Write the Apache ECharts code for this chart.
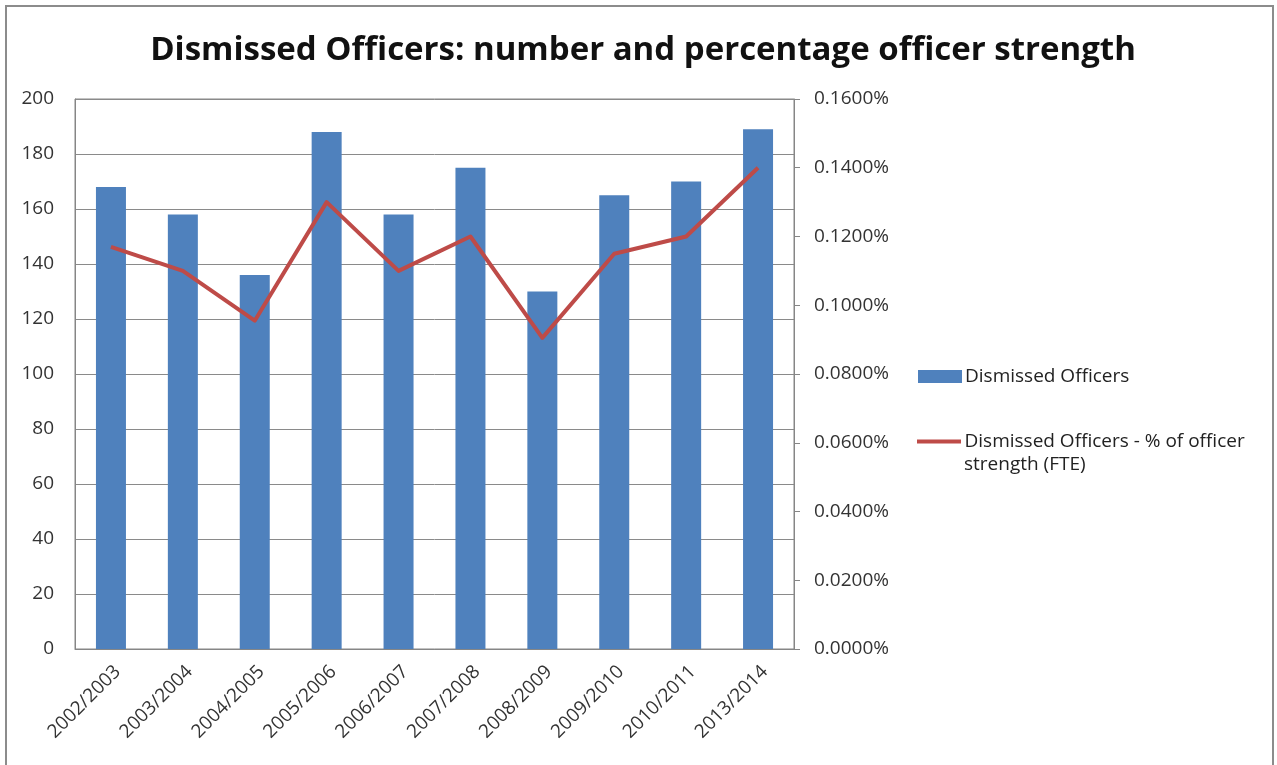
<!DOCTYPE html>
<html>
<head>
<meta charset="utf-8">
<script src="https://cdn.jsdelivr.net/npm/echarts@6/dist/echarts.min.js"></script>
<style>
  html, body { margin: 0; padding: 0; background: #fff; }
  #chart { width: 1277px; height: 765px; }
</style>
</head>
<body>
<div id="chart"></div>
<script>
// Fiscal years
const years = ['2002/2003', '2003/2004', '2004/2005', '2005/2006', '2006/2007',
               '2007/2008', '2008/2009', '2009/2010', '2010/2011', '2013/2014'];
// Number of dismissed officers
const dismissed = [168, 158, 136, 188, 158, 175, 130, 165, 170, 189];
// Dismissed officers as a percentage of officer strength (FTE), in %
const dismissedPct = [0.117, 0.110, 0.0955, 0.130, 0.110, 0.120, 0.0905, 0.115, 0.120, 0.140];

const barName = 'Dismissed Officers';
const lineName = 'Dismissed Officers - % of officer strength (FTE)';

const FONT = '"Open Sans", "Noto Sans", sans-serif';
const LABEL = '#333333';
const LEGEND_TEXT = '#222222';

const chart = echarts.init(document.getElementById('chart'), null, { renderer: 'canvas' });

chart.setOption({
  backgroundColor: '#ffffff',
  animation: false,
  textStyle: { fontFamily: FONT },
  title: {
    text: 'Dismissed Officers: number and percentage officer strength',
    left: 638,
    top: 29,
    textAlign: 'center',
    textStyle: { fontFamily: FONT, fontSize: 33, fontWeight: 'bold', color: '#111' }
  },
  legend: [
    {
      data: [barName],
      left: 913,
      top: 362,
      itemWidth: 44,
      itemHeight: 13,
      itemGap: 4,
      icon: 'rect',
      textStyle: { fontFamily: FONT, fontSize: 19, color: LEGEND_TEXT, padding: [0, 0, 0, -2] },
      selectedMode: false
    },
    {
      data: [{ name: lineName, icon: 'path://M0,0 L44,0 L44,4 L0,4 Z' }],
      formatter: () => 'Dismissed Officers - % of officer',
      left: 912,
      top: 427,
      itemWidth: 45,
      itemHeight: 4,
      textStyle: { fontFamily: FONT, fontSize: 19, color: LEGEND_TEXT, padding: [0, 0, 0, -2] },
      selectedMode: false
    }
  ],
  graphic: [
    {
      type: 'rect',
      shape: { x: 6, y: 6, width: 1267, height: 770 },
      style: { fill: 'none', stroke: '#8c8c8c', lineWidth: 2 },
      silent: true
    },
    {
      type: 'text',
      left: 964,
      top: 455,
      style: { text: 'strength (FTE)', font: '19px ' + FONT, fill: LEGEND_TEXT },
      silent: true
    }
  ],
  grid: {
    left: 75,
    right: 483,
    top: 99,
    bottom: 116,
    show: true,
    borderColor: '#868686',
    borderWidth: 1
  },
  xAxis: {
    type: 'category',
    data: years,
    axisLine: { lineStyle: { color: '#868686' } },
    axisTick: { show: false },
    axisLabel: {
      rotate: 45,
      interval: 0,
      margin: 13,
      verticalAlign: 'top',
      fontSize: 19,
      color: LABEL,
      fontFamily: FONT
    }
  },
  yAxis: [
    {
      type: 'value',
      min: 0,
      max: 200,
      interval: 20,
      axisLine: { show: true, lineStyle: { color: '#868686' } },
      axisTick: { show: false },
      splitLine: { lineStyle: { color: '#8a8a8a', width: 1 } },
      axisLabel: { fontSize: 19, color: LABEL, fontFamily: FONT, margin: 21 }
    },
    {
      type: 'value',
      min: 0,
      max: 0.16,
      interval: 0.02,
      position: 'right',
      axisLine: { show: true, lineStyle: { color: '#868686' } },
      axisTick: { show: true, length: 6, inside: false, lineStyle: { color: '#868686' } },
      splitLine: { show: false },
      axisLabel: {
        fontSize: 19,
        color: LABEL,
        fontFamily: FONT,
        margin: 20,
        formatter: v => v.toFixed(4) + '%'
      }
    }
  ],
  series: [
    {
      name: barName,
      type: 'bar',
      data: dismissed,
      yAxisIndex: 0,
      barWidth: 30,
      itemStyle: { color: '#4f81bd' }
    },
    {
      name: lineName,
      type: 'line',
      data: dismissedPct,
      yAxisIndex: 1,
      symbol: 'none',
      lineStyle: { color: '#be4b48', width: 4, join: 'round' },
      itemStyle: { color: '#be4b48' }
    }
  ]
});
</script>
</body>
</html>
